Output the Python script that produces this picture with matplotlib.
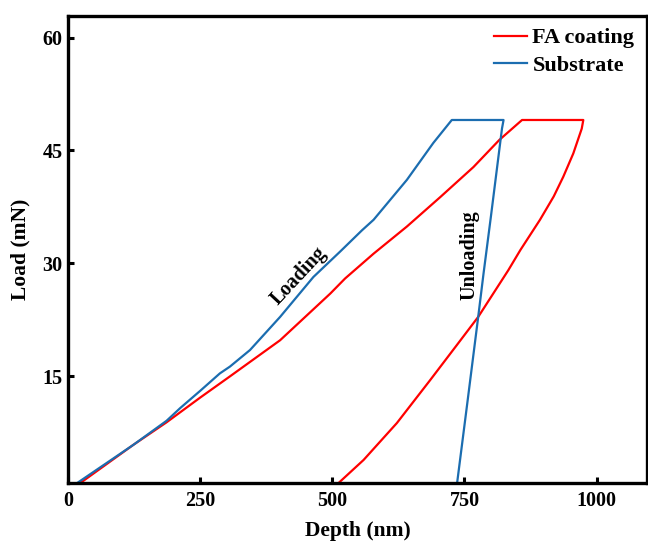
import numpy as np
import matplotlib
matplotlib.use('Agg')
import matplotlib.pyplot as plt

# load-depth curves (depth nm, load mN)
fa_depth = [22, 123, 186, 250, 306, 401, 496, 524, 578, 641, 704, 767, 816, 859,
            975, 972, 956, 937, 919, 893, 856, 833, 776, 736, 685, 622, 559, 511]
fa_load = [0.8, 5.9, 8.9, 12.2, 15.0, 19.8, 26.0, 28.0, 31.3, 34.9, 38.8, 42.8, 46.4, 49.05,
           49.05, 47.9, 44.6, 41.5, 38.9, 35.8, 31.8, 29.1, 22.9, 19.2, 14.5, 8.8, 3.9, 0.8]

sub_depth = [16, 123, 186, 212, 250, 287, 306, 344, 401, 464, 515, 556, 578, 641, 691, 726,
             824, 821, 800, 786, 776, 756, 736]
sub_load = [0.8, 5.9, 9.1, 10.8, 13.1, 15.4, 16.3, 18.5, 22.9, 28.2, 31.6, 34.4, 35.8, 41.1, 46.0, 49.05,
            49.05, 47.9, 36.2, 28.6, 22.9, 11.8, 0.8]

xticks = [0, 250, 500, 750, 1000]
yticks = [15, 30, 45, 60]

plt.rcParams['font.family'] = ['Liberation Serif', 'DejaVu Serif']
plt.rcParams['font.weight'] = 'bold'

fig = plt.figure(figsize=(6.48, 5.45), dpi=100)
ax = fig.add_axes([0.1054, 0.1132, 0.8926, 0.858])

ax.plot(fa_depth, fa_load, color='#ff0000', lw=1.6, label='FA coating')
ax.plot(sub_depth, sub_load, color='#1b6db0', lw=1.6, label='Substrate')

ax.set_xlim(0, 1095)
ax.set_ylim(0.8, 62.9)
ax.set_xticks(xticks)
ax.set_yticks(yticks)
for sp in ax.spines.values():
    sp.set_linewidth(2.4)
ax.tick_params(direction='in', length=4, width=2.2, labelsize=14.5)
ax.tick_params(axis='x', pad=5.5)
ax.tick_params(axis='y', pad=4)

ax.set_xlabel('Depth (nm)', fontsize=15.5, fontweight='bold', labelpad=7)
ax.set_ylabel('Load (mN)', fontsize=15.5, fontweight='bold', labelpad=9)

ax.text(437, 28.3, 'Loading', rotation=47, fontsize=14.5, fontweight='bold',
        ha='center', va='center')
ax.text(759, 31.1, 'Unloading', rotation=90, fontsize=14.5, fontweight='bold',
        ha='center', va='center')

ax.legend(loc='upper right', frameon=False, handlelength=1.5,
          handletextpad=0.25, labelspacing=0.3, borderaxespad=0.15,
          prop={'weight': 'bold', 'size': 16})

fig.savefig('out.png', dpi=100)
